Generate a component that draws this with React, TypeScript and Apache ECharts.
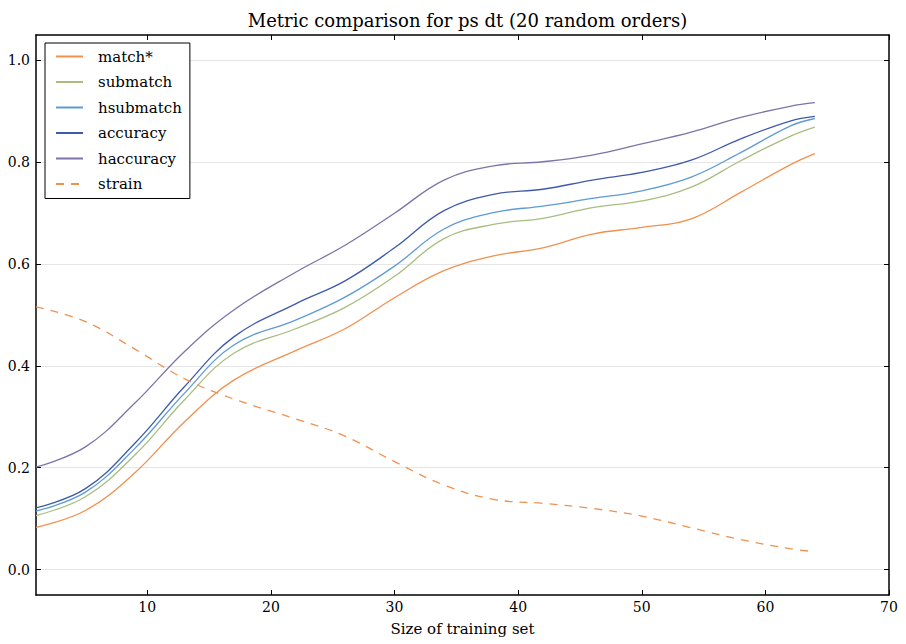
import React, { useEffect, useRef } from "react";
import * as echarts from "echarts";

const xs = [1, 5, 9, 13, 17, 22, 26, 30, 34, 38, 42, 46, 50, 54, 58, 62, 64];
const matchStar = [0.083, 0.116, 0.19, 0.29, 0.372, 0.43, 0.473, 0.534, 0.587, 0.616, 0.632, 0.659, 0.672, 0.689, 0.741, 0.795, 0.817];
const submatch = [0.106, 0.143, 0.225, 0.333, 0.425, 0.473, 0.515, 0.576, 0.65, 0.678, 0.69, 0.711, 0.724, 0.751, 0.803, 0.851, 0.869];
const hsubmatch = [0.115, 0.152, 0.238, 0.346, 0.441, 0.49, 0.535, 0.596, 0.669, 0.701, 0.714, 0.729, 0.744, 0.771, 0.819, 0.871, 0.886];
const accuracy = [0.121, 0.159, 0.248, 0.359, 0.457, 0.522, 0.567, 0.632, 0.705, 0.737, 0.747, 0.765, 0.78, 0.804, 0.846, 0.881, 0.89];
const haccuracy = [0.201, 0.241, 0.327, 0.428, 0.51, 0.584, 0.637, 0.7, 0.765, 0.793, 0.801, 0.814, 0.836, 0.859, 0.888, 0.91, 0.917];
const strain = [0.516, 0.487, 0.433, 0.375, 0.335, 0.296, 0.262, 0.212, 0.166, 0.138, 0.13, 0.12, 0.105, 0.082, 0.059, 0.041, 0.035];

const xTicks = [10, 20, 30, 40, 50, 60, 70];
const yTicks = [0, 0.2, 0.4, 0.6, 0.8, 1.0];

const FONT = "DejaVu Serif";

export default function App() {
  const ref = useRef<HTMLDivElement>(null);
  useEffect(() => {
    document.body.style.margin = "0";
    const chart = echarts.init(ref.current!, null, { renderer: "svg" });
    const mk = (name: string, data: number[], color: string, dashed = false) => ({
      name,
      type: "line",
      data: xs.map((x, i) => [x, data[i]]),
      smooth: 0.4,
      symbol: "none",
      lineStyle: { color, width: 1.3, type: dashed ? [8, 7] : "solid" },
      itemStyle: { color },
      xAxisIndex: 0,
      yAxisIndex: 0,
    });
    const axisCommon = {
      axisLine: { show: true, onZero: false, lineStyle: { color: "#000", width: 1.5 } },
    };
    chart.setOption({
      animation: false,
      title: {
        text: "Metric comparison for ps dt (20 random orders)",
        left: 462.5,
        textAlign: "center",
        top: 6,
        textStyle: { fontFamily: FONT, fontSize: 18, fontWeight: "normal", color: "#000" },
      },
      legend: {
        orient: "vertical",
        left: 45,
        top: 43,
        itemWidth: 27,
        itemHeight: 14,
        itemGap: 10.5,
        padding: [6, 8, 7, 10],
        borderColor: "#000",
        borderWidth: 1,
        backgroundColor: "#fff",
        itemStyle: { opacity: 0 },
        textStyle: { fontFamily: FONT, fontSize: 15, color: "#000", padding: [0, 0, 0, 10] },
        data: ["match*", "submatch", "hsubmatch", "accuracy", "haccuracy", "strain"],
      },
      grid: { left: 36, right: 17, top: 35, bottom: 49 },
      xAxis: [
        {
          type: "value",
          min: 1,
          max: 70,
          position: "bottom",
          ...axisCommon,
          axisTick: { inside: true, length: 5, customValues: xTicks, lineStyle: { color: "#000" } },
          axisLabel: { customValues: xTicks, fontFamily: FONT, fontSize: 14, color: "#000", margin: 5 },
          splitLine: { show: false },
          name: "Size of training set",
          nameLocation: "middle",
          nameGap: 26,
          nameTextStyle: { fontFamily: FONT, fontSize: 15, color: "#000" },
        },
        {
          type: "value",
          min: 1,
          max: 70,
          position: "top",
          ...axisCommon,
          axisTick: { inside: true, length: 5, customValues: xTicks, lineStyle: { color: "#000" } },
          axisLabel: { show: false },
          splitLine: { show: false },
        },
      ],
      yAxis: [
        {
          type: "value",
          min: -0.05,
          max: 1.05,
          position: "left",
          ...axisCommon,
          axisTick: { inside: true, length: 5, customValues: yTicks, lineStyle: { color: "#000" } },
          axisLabel: {
            customValues: yTicks,
            fontFamily: FONT,
            fontSize: 14,
            color: "#000",
            margin: 6,
            formatter: (v: number) => v.toFixed(1),
          },
          splitLine: { show: true, lineStyle: { color: "#e6e6e6", width: 1 } },
        },
        {
          type: "value",
          min: -0.05,
          max: 1.05,
          position: "right",
          ...axisCommon,
          axisTick: { inside: true, length: 5, customValues: yTicks, lineStyle: { color: "#000" } },
          axisLabel: { show: false },
          splitLine: { show: false },
        },
      ],
      series: [
        mk("match*", matchStar, "#f0914f"),
        mk("submatch", submatch, "#a9bd80"),
        mk("hsubmatch", hsubmatch, "#5e9bd3"),
        mk("accuracy", accuracy, "#3e5aa9"),
        mk("haccuracy", haccuracy, "#7f72a9"),
        mk("strain", strain, "#f0914f", true),
      ],
    });
    return () => chart.dispose();
  }, []);
  return <div ref={ref} style={{ width: 906, height: 644 }} />;
}
